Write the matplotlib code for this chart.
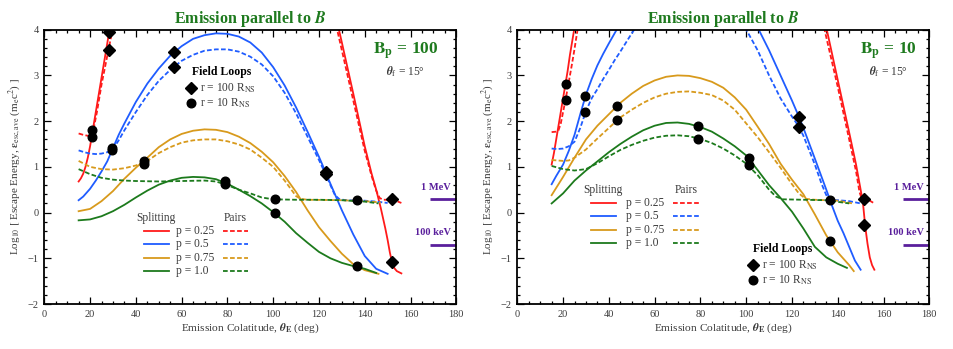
import matplotlib
matplotlib.use('Agg')
import matplotlib.pyplot as plt
from matplotlib.ticker import MultipleLocator
from matplotlib.lines import Line2D

plt.rcParams['font.family'] = ['Liberation Serif', 'DejaVu Serif']
plt.rcParams['mathtext.fontset'] = 'stix'

# ------------------------------------------------------------------ data
P_LABELS = ['p = 0.25', 'p = 0.5', 'p = 0.75', 'p = 1.0']
COLORS = ['#ff1a1a', '#1f5cff', '#d89a1c', '#1c7a1c']

# ---------------- Bp = 100 panel
b100_red_split_a_x = [15, 16, 17, 18, 19, 20, 21, 22, 23, 24, 25, 26, 27, 28, 29]
b100_red_split_a_y = [0.68, 0.75, 0.85, 1.0, 1.2, 1.45, 1.75, 2.05, 2.35, 2.65, 2.95, 3.25, 3.55, 3.85, 4.15]
b100_red_split_b_x = [128.5, 130, 135, 140, 143, 145, 147, 149, 150, 151, 152, 153, 154, 156]
b100_red_split_b_y = [4.05, 3.72, 2.6, 1.45, 0.85, 0.5, 0.1, -0.35, -0.6, -0.88, -1.1, -1.22, -1.28, -1.33]
b100_red_pair_a_x = [15, 17, 19, 20, 21, 22, 23, 24, 25, 26, 27, 28, 29, 30]
b100_red_pair_a_y = [1.73, 1.70, 1.68, 1.66, 1.68, 1.95, 2.2, 2.5, 2.8, 3.05, 3.3, 3.55, 3.8, 4.05]
b100_red_pair_b_x = [127.5, 130, 135, 140, 143, 145, 146.5, 148, 152, 154, 156]
b100_red_pair_b_y = [4.1, 3.55, 2.45, 1.35, 0.8, 0.48, 0.32, 0.28, 0.28, 0.25, 0.21]

b100_blue_split_x = [15, 17, 20, 22.5, 25, 27.5, 30, 32.5, 35, 40, 45, 50, 55, 60, 65, 70, 75, 80, 85, 90,
                     95, 100, 105, 110, 115, 120, 123, 125, 130, 135, 140, 145, 150]
b100_blue_split_y = [0.27, 0.35, 0.52, 0.7, 0.9, 1.12, 1.41, 1.7, 1.95, 2.42, 2.82, 3.15, 3.43, 3.64, 3.8, 3.88,
                     3.92, 3.91, 3.85, 3.72, 3.5, 3.18, 2.78, 2.3, 1.77, 1.22, 0.87, 0.63, 0.05, -0.48, -0.95,
                     -1.23, -1.34]
b100_blue_pair_x = [15, 17.5, 20, 22.5, 25, 27.5, 30, 32.5, 35, 40, 45, 50, 55, 60, 65, 70, 75, 80, 85, 90,
                    95, 100, 105, 110, 115, 120, 123, 125, 127, 129, 132, 140, 145, 150]
b100_blue_pair_y = [1.36, 1.32, 1.29, 1.28, 1.29, 1.32, 1.39, 1.58, 1.8, 2.2, 2.57, 2.88, 3.12, 3.32, 3.45,
                    3.54, 3.57, 3.57, 3.52, 3.41, 3.24, 2.98, 2.62, 2.17, 1.66, 1.15, 0.83, 0.6, 0.38, 0.29,
                    0.27, 0.26, 0.24, 0.21]

b100_orange_split_x = [15, 20, 25, 30, 35, 40, 43.4, 45, 50, 55, 60, 65, 70, 75, 80, 85, 90, 95, 100, 105,
                       110, 115, 120, 125, 130, 135, 140, 146]
b100_orange_split_y = [0.03, 0.08, 0.25, 0.47, 0.74, 0.98, 1.13, 1.2, 1.43, 1.6, 1.72, 1.79, 1.82, 1.81, 1.76,
                       1.66, 1.52, 1.33, 1.1, 0.8, 0.45, 0.05, -0.32, -0.62, -0.9, -1.13, -1.26, -1.34]
b100_orange_pair_x = [15, 20, 25, 30, 35, 40, 45, 50, 55, 60, 65, 70, 75, 80, 85, 90, 95, 100, 105, 110, 112,
                      115, 130, 140, 147]
b100_orange_pair_y = [1.13, 1.0, 0.95, 0.94, 0.97, 1.03, 1.13, 1.3, 1.43, 1.53, 1.58, 1.6, 1.6, 1.56, 1.49,
                      1.38, 1.2, 1.0, 0.7, 0.36, 0.3, 0.28, 0.27, 0.25, 0.22]

b100_green_split_x = [15, 20, 25, 30, 35, 40, 45, 50, 55, 60, 65, 70, 75, 80, 85, 90, 95, 100, 105, 110, 115,
                      120, 125, 130, 135, 140, 145]
b100_green_split_y = [-0.17, -0.15, -0.08, 0.03, 0.17, 0.33, 0.48, 0.61, 0.7, 0.76, 0.78, 0.77, 0.73, 0.63,
                      0.5, 0.36, 0.2, 0.01, -0.2, -0.45, -0.66, -0.86, -1.0, -1.1, -1.17, -1.23, -1.32]
b100_green_pair_x = [15, 20, 25, 30, 35, 40, 50, 60, 70, 75, 80, 85, 90, 95, 100, 110, 120, 130, 140, 146]
b100_green_pair_y = [0.95, 0.84, 0.76, 0.72, 0.7, 0.69, 0.68, 0.69, 0.7, 0.68, 0.6, 0.5, 0.42, 0.33, 0.29,
                     0.28, 0.28, 0.27, 0.24, 0.2]

b100_loop100_x = [28.3, 28.3, 56.8, 56.8, 123.0, 123.0, 151.9, 151.9]
b100_loop100_y = [3.96, 3.56, 3.52, 3.18, 0.88, 0.84, 0.29, -1.08]
b100_loop10_x = [21.0, 21.0, 29.7, 29.7, 43.4, 43.4, 79.1, 79.1, 100.7, 100.7, 136.6, 136.6]
b100_loop10_y = [1.81, 1.65, 1.41, 1.36, 1.13, 1.07, 0.68, 0.62, 0.29, 0.0, 0.27, -1.16]

# ---------------- Bp = 10 panel
b10_red_split_a_x = [15, 16, 17, 18, 19, 20, 21, 22, 23, 24, 25]
b10_red_split_a_y = [1.05, 1.3, 1.6, 1.9, 2.2, 2.5, 2.8, 3.1, 3.45, 3.75, 4.05]
b10_red_split_b_x = [135, 140, 145, 148, 150, 151, 152, 153, 154, 155, 156]
b10_red_split_b_y = [4.05, 2.9, 1.75, 1.05, 0.5, 0.22, -0.3, -0.68, -0.98, -1.15, -1.25]
b10_red_pair_a_x = [15, 17, 18, 19, 20, 21, 22, 23, 24, 25, 26, 26.5]
b10_red_pair_a_y = [1.76, 1.77, 1.8, 1.95, 2.2, 2.45, 2.72, 3.0, 3.28, 3.58, 3.9, 4.05]
b10_red_pair_b_x = [134, 140, 145, 148, 149.5, 150.5, 152, 154, 156]
b10_red_pair_b_y = [4.05, 2.75, 1.6, 0.9, 0.45, 0.3, 0.28, 0.26, 0.2]

b10_blue_split_a_x = [15, 17, 20, 22.5, 25, 27.5, 30, 32.5, 35, 37.5, 40, 42.5, 44]
b10_blue_split_a_y = [0.62, 0.8, 1.05, 1.35, 1.7, 2.15, 2.58, 2.92, 3.22, 3.47, 3.7, 3.92, 4.05]
b10_blue_split_b_x = [105, 110, 115, 120, 123, 125, 130, 135, 137.5, 140, 142.5, 145, 147.5, 150]
b10_blue_split_b_y = [4.05, 3.55, 3.0, 2.45, 2.1, 1.85, 1.18, 0.5, 0.15, -0.18, -0.45, -0.75, -1.05, -1.25]
b10_blue_pair_a_x = [15, 17.5, 20, 22.5, 25, 27.5, 30, 32.5, 35, 37.5, 40, 42.5, 45, 47.5, 50, 52]
b10_blue_pair_a_y = [1.40, 1.39, 1.40, 1.45, 1.55, 1.85, 2.22, 2.5, 2.7, 2.92, 3.12, 3.33, 3.52, 3.72, 3.92,
                     4.07]
b10_blue_pair_b_x = [99.5, 105, 110, 115, 120, 123, 125, 130, 133, 135, 136.5, 140, 145, 150]
b10_blue_pair_b_y = [4.05, 3.55, 3.0, 2.5, 2.1, 1.88, 1.68, 1.05, 0.62, 0.38, 0.28, 0.27, 0.25, 0.2]

b10_orange_split_x = [15, 20, 25, 30, 35, 40, 45, 50, 55, 60, 65, 70, 75, 80, 85, 90, 95, 100, 105, 110, 115,
                      120, 125, 130, 135, 140, 145, 147]
b10_orange_split_y = [0.38, 0.78, 1.2, 1.6, 1.9, 2.15, 2.4, 2.6, 2.77, 2.89, 2.97, 3.0, 2.99, 2.94, 2.86,
                      2.73, 2.52, 2.25, 1.88, 1.5, 1.07, 0.72, 0.4, -0.04, -0.5, -0.87, -1.15, -1.28]
b10_orange_pair_x = [15, 20, 22.5, 25, 30, 35, 40, 45, 50, 55, 60, 65, 70, 75, 80, 85, 90, 95, 100, 105, 110,
                     115, 120, 123, 126, 130, 140, 146.5]
b10_orange_pair_y = [1.15, 1.13, 1.14, 1.2, 1.38, 1.62, 1.85, 2.08, 2.25, 2.4, 2.52, 2.6, 2.64, 2.65, 2.62,
                     2.57, 2.45, 2.25, 1.95, 1.65, 1.32, 0.98, 0.62, 0.42, 0.3, 0.28, 0.26, 0.2]

b10_green_split_x = [15, 20, 25, 30, 35, 40, 45, 50, 55, 60, 65, 70, 75, 80, 85, 90, 95, 100, 105, 110, 115,
                     120, 125, 130, 135, 140, 144]
b10_green_split_y = [0.2, 0.42, 0.7, 0.92, 1.12, 1.32, 1.5, 1.66, 1.8, 1.9, 1.96, 1.97, 1.94, 1.87, 1.77,
                     1.62, 1.45, 1.25, 0.93, 0.6, 0.32, 0.02, -0.35, -0.75, -0.98, -1.12, -1.21]
b10_green_pair_x = [15, 20, 25, 30, 35, 40, 45, 50, 55, 60, 65, 70, 75, 80, 85, 90, 95, 100, 105, 110, 113,
                    116, 125, 135, 145]
b10_green_pair_y = [1.02, 0.95, 0.92, 0.95, 1.08, 1.23, 1.37, 1.48, 1.57, 1.64, 1.68, 1.69, 1.67, 1.61,
                    1.52, 1.4, 1.25, 1.07, 0.82, 0.5, 0.35, 0.29, 0.28, 0.27, 0.2]

b10_loop100_x = [123.2, 123.2, 151.6, 151.6]
b10_loop100_y = [2.09, 1.88, 0.30, -0.27]
b10_loop10_x = [21.1, 21.1, 29.7, 29.7, 43.6, 43.6, 79.1, 79.1, 101.1, 101.1, 136.5, 136.5]
b10_loop10_y = [2.82, 2.46, 2.55, 2.21, 2.34, 2.02, 1.89, 1.62, 1.20, 1.03, 0.27, -0.63]

ENERGY_LEVELS = [0.29, -0.71]          # log10(E / m_e c^2) for 1 MeV and 100 keV
ENERGY_LABELS = ['1 MeV', '100 keV']
BP_LABELS = ['100', '10']
THETA_F = 15

# ------------------------------------------------------------------ styling
TITLE_GREEN = '#1e7a1e'
PURPLE = '#5a1f9c'
TEXT_GRAY = '#3a3a3a'
LW = 1.3
DASH = (0, (2.6, 1.3))
MS = 6.2

fig = plt.figure(figsize=(9.54, 3.49), dpi=100)
ax_l = fig.add_axes([44.3 / 954, 45 / 349, 412 / 954, 274.3 / 349])
ax_r = fig.add_axes([517.3 / 954, 45 / 349, 412 / 954, 274.3 / 349])


def style_axes(ax):
    ax.set_xlim(0, 180)
    ax.set_ylim(-2, 4)
    ax.xaxis.set_major_locator(MultipleLocator(20))
    ax.xaxis.set_minor_locator(MultipleLocator(5))
    ax.yaxis.set_major_locator(MultipleLocator(1))
    ax.yaxis.set_minor_locator(MultipleLocator(0.2))
    ax.tick_params(which='both', direction='in', top=True, right=True, colors='black',
                   labelcolor=TEXT_GRAY, labelsize=7.5, width=0.9)
    ax.tick_params(which='major', length=5, pad=4)
    ax.tick_params(which='minor', length=2.5)
    for s in ax.spines.values():
        s.set_linewidth(1.3)
    ax.set_xlabel(r'Emission Colatitude, $\boldsymbol{\theta}_{\mathbf{E}}$ (deg)', fontsize=8.2,
                  color=TEXT_GRAY, labelpad=2)
    ax.set_ylabel(r'Log$_{10}$ $\left[\right.$ Escape Energy, $\boldsymbol{\varepsilon}_{\rm esc,ave}$ '
                  r'(m$_{\rm e}$c$^{2}$) $\left.\right]$', fontsize=8, color=TEXT_GRAY, labelpad=3)
    ax.set_title(r'Emission parallel to $\boldsymbol{B}$', fontsize=11.5, fontweight='bold',
                 color=TITLE_GREEN, pad=5)
    for lev, lab in zip(ENERGY_LEVELS, ENERGY_LABELS):
        ax.plot([168.6, 180], [lev, lev], color=PURPLE, lw=2.0, solid_capstyle='butt', clip_on=False)
        ax.text(0.987, (lev + 2) / 6 + 0.028, lab, transform=ax.transAxes, ha='right', va='bottom',
                fontsize=7.5, fontweight='bold', color=PURPLE)


def plot_panel(ax, split, pairs, loops100, loops10):
    for (xs, ys), c in split:
        ax.plot(xs, ys, color=c, lw=LW)
    for (xs, ys), c in pairs:
        ax.plot(xs, ys, color=c, lw=LW, ls=DASH)
    ax.plot(loops100[0], loops100[1], ls='none', marker='D', ms=MS, color='black', zorder=5)
    ax.plot(loops10[0], loops10[1], ls='none', marker='o', ms=MS, color='black', zorder=5)


def legend_block(ax, x_split, y_head, dy, x_text, x_pair):
    ax.text(x_split + 0.03, y_head, 'Splitting', transform=ax.transAxes, ha='center', va='center',
            fontsize=8.3, color=TEXT_GRAY)
    ax.text(x_pair + 0.031, y_head, 'Pairs', transform=ax.transAxes, ha='center', va='center',
            fontsize=8.3, color=TEXT_GRAY)
    for i, (lab, c) in enumerate(zip(P_LABELS, COLORS)):
        yy = y_head - (i + 1) * dy
        ax.add_line(Line2D([x_split, x_split + 0.061], [yy, yy], transform=ax.transAxes, color=c, lw=LW))
        ax.add_line(Line2D([x_pair, x_pair + 0.062], [yy, yy], transform=ax.transAxes, color=c, lw=LW,
                           ls=DASH))
        ax.text(x_text, yy, lab, transform=ax.transAxes, ha='left', va='center', fontsize=8.3,
                color=TEXT_GRAY)


def loops_block(ax, xc, y_head, x_mark, dy):
    ax.text(xc, y_head, 'Field Loops', transform=ax.transAxes, ha='center', va='center', fontsize=8.5,
            fontweight='bold', color='black')
    ax.plot([x_mark], [y_head - dy], transform=ax.transAxes, marker='D', ms=MS, color='black', ls='none')
    ax.plot([x_mark], [y_head - 2 * dy], transform=ax.transAxes, marker='o', ms=MS, color='black', ls='none')
    ax.text(x_mark + 0.022, y_head - dy, r'r = 100 R$_{\rm NS}$', transform=ax.transAxes, ha='left',
            va='center', fontsize=8.3, color=TEXT_GRAY)
    ax.text(x_mark + 0.022, y_head - 2 * dy, r'r = 10 R$_{\rm NS}$', transform=ax.transAxes, ha='left',
            va='center', fontsize=8.3, color=TEXT_GRAY)


def bp_block(ax, xc, bp):
    ax.text(xc, 0.922, r'$\mathbf{B_p}$ = ' + bp, transform=ax.transAxes, ha='center', va='center',
            fontsize=12.5, fontweight='bold', color=TITLE_GREEN)
    ax.text(xc, 0.845, r'$\boldsymbol{\theta}_{\rm f}$ = %d°' % THETA_F, transform=ax.transAxes,
            ha='center', va='center', fontsize=8.3, color=TEXT_GRAY)


for ax in (ax_l, ax_r):
    style_axes(ax)

plot_panel(ax_l,
           [((b100_red_split_a_x, b100_red_split_a_y), COLORS[0]),
            ((b100_red_split_b_x, b100_red_split_b_y), COLORS[0]),
            ((b100_blue_split_x, b100_blue_split_y), COLORS[1]),
            ((b100_orange_split_x, b100_orange_split_y), COLORS[2]),
            ((b100_green_split_x, b100_green_split_y), COLORS[3])],
           [((b100_red_pair_a_x, b100_red_pair_a_y), COLORS[0]),
            ((b100_red_pair_b_x, b100_red_pair_b_y), COLORS[0]),
            ((b100_blue_pair_x, b100_blue_pair_y), COLORS[1]),
            ((b100_orange_pair_x, b100_orange_pair_y), COLORS[2]),
            ((b100_green_pair_x, b100_green_pair_y), COLORS[3])],
           (b100_loop100_x, b100_loop100_y), (b100_loop10_x, b100_loop10_y))

plot_panel(ax_r,
           [((b10_red_split_a_x, b10_red_split_a_y), COLORS[0]),
            ((b10_red_split_b_x, b10_red_split_b_y), COLORS[0]),
            ((b10_blue_split_a_x, b10_blue_split_a_y), COLORS[1]),
            ((b10_blue_split_b_x, b10_blue_split_b_y), COLORS[1]),
            ((b10_orange_split_x, b10_orange_split_y), COLORS[2]),
            ((b10_green_split_x, b10_green_split_y), COLORS[3])],
           [((b10_red_pair_a_x, b10_red_pair_a_y), COLORS[0]),
            ((b10_red_pair_b_x, b10_red_pair_b_y), COLORS[0]),
            ((b10_blue_pair_a_x, b10_blue_pair_a_y), COLORS[1]),
            ((b10_blue_pair_b_x, b10_blue_pair_b_y), COLORS[1]),
            ((b10_orange_pair_x, b10_orange_pair_y), COLORS[2]),
            ((b10_green_pair_x, b10_green_pair_y), COLORS[3])],
           (b10_loop100_x, b10_loop100_y), (b10_loop10_x, b10_loop10_y))

legend_block(ax_l, 0.241, 0.313, 0.048, 0.319, 0.433)
legend_block(ax_r, 0.179, 0.415, 0.048, 0.264, 0.379)
loops_block(ax_l, 0.43, 0.845, 0.356, 0.057)
loops_block(ax_r, 0.644, 0.20, 0.571, 0.057)
bp_block(ax_l, 0.876, BP_LABELS[0])
bp_block(ax_r, 0.90, BP_LABELS[1])

fig.savefig('out.png', dpi=100)
